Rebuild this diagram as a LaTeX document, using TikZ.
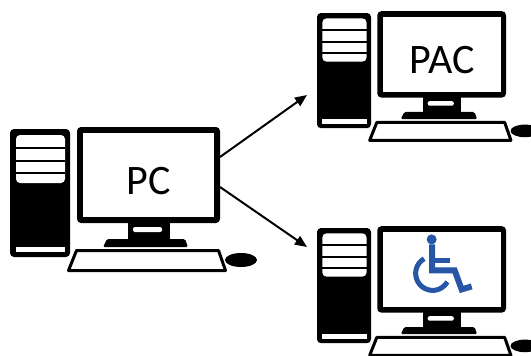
\documentclass[tikz,border=0pt]{standalone}
\usepackage{fontspec}
\setmainfont{Carlito}
\usetikzlibrary{arrows.meta}

\definecolor{isablue}{RGB}{40,86,166}

\tikzset{
  screentext/.style={font=\fontsize{42}{42}\selectfont},
  link/.style={line width=2pt, -{Triangle[length=12pt,width=10pt]}},
  computer/.pic={
    % tower
    \fill[rounded corners=4pt] (0,0) rectangle (60,128);
    \fill[white, rounded corners=4pt] (6,6) rectangle (55,54);
    \fill (6,18) rectangle (55,20);
    \fill (6,31) rectangle (55,33);
    \fill (6,43) rectangle (55,45);
    \fill[white] (6,118) rectangle (55,123);
    % monitor and stand
    \fill[rounded corners=4pt] (67,-2) rectangle (210,94);
    \fill[white] (73,4) rectangle (204,88);
    \fill (118,93) rectangle (160,111);
    \fill[white, rounded corners=2pt] (123,98) rectangle (152,103);
    \fill[rounded corners=1.5pt] (97,110) -- (175,110) -- (178,118) -- (93,118) -- cycle;
    % keyboard and mouse
    \draw[line width=3pt, line join=round, fill=white]
      (66.5,121.5) -- (208.5,121.5) -- (215.5,141.5) -- (58.5,141.5) -- cycle;
    \fill (231,131) ellipse [x radius=16, y radius=7];
    \coordinate (-screen) at (138.5,46);
    \coordinate (-east) at (210,46);
    \node[screentext] (-label) at (139,52) {#1};
  },
  wheelchair/.pic={
    \fill[isablue] (-10,-30) circle [radius=5];
    \draw[isablue, line width=6pt] (-9.5,-25) -- (-9.5,1) -- (13,1) -- (20,20) -- (30,17);
    \draw[isablue, line width=5pt] (-9.5,-8.5) -- (8,-8.5);
    \draw[isablue, line width=5pt] (-9,4) ++(240:17) arc [start angle=240, end angle=30, radius=17];
  }
}

\begin{document}
\begin{tikzpicture}[x=1pt, y=-1pt]
  \useasboundingbox (0,0) rectangle (531,356);

  \pic (pc) at (10,129) {computer=PC};
  \pic[scale=0.9] (pac) at (317,13) {computer=PAC};
  \pic[scale=0.9] (acc) at (317,228) {computer=};
  \pic at (acc-screen) {wheelchair};

  \coordinate (pacin) at (307,95);
  \coordinate (accin) at (307,247);

  \draw[link] ([yshift=18pt]pc-east) -- (pacin);
  \draw[link] ([yshift=-12pt]pc-east) -- (accin);
\end{tikzpicture}
\end{document}
